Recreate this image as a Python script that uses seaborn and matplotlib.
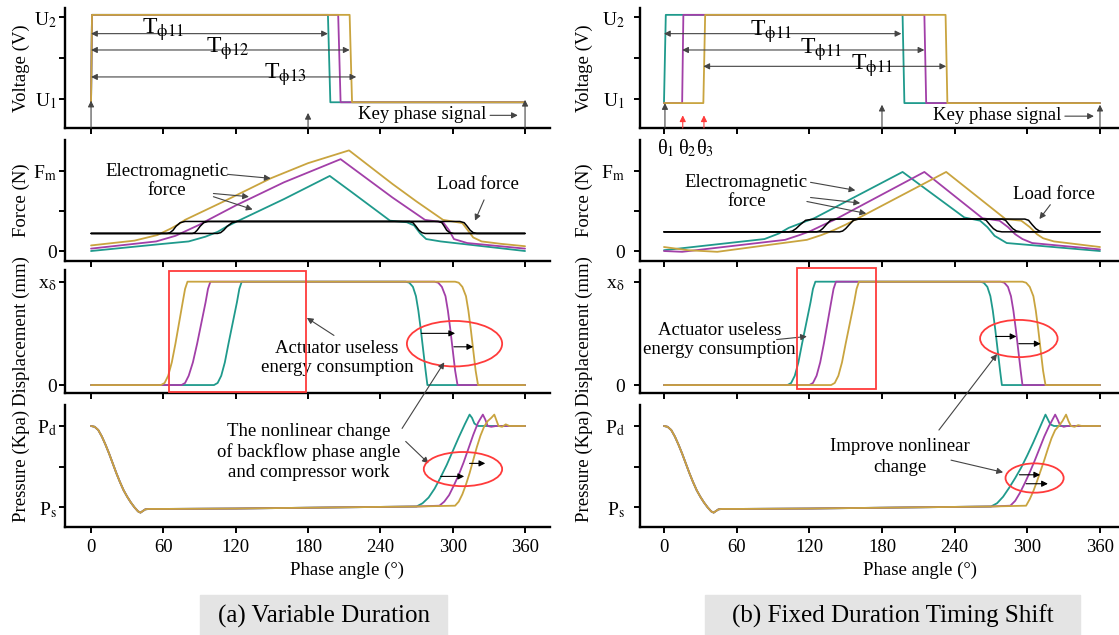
import matplotlib
matplotlib.use('Agg')
import matplotlib.pyplot as plt
import seaborn as sns
from matplotlib.patches import Rectangle, Ellipse, ConnectionPatch

# ---------------- data ----------------
ANGLE_TICKS = [0, 60, 120, 180, 240, 300, 360]
ANGLE_LABELS = ['0', '60', '120', '180', '240', '300', '360']

# Voltage (U1 = 0, U2 = 1)
a_volt_y = [-0.04, 1.03, 1.03, -0.04, -0.04]
a_volt_teal_x = [0, 0.8, 196.5, 198.5, 360]
a_volt_purple_x = [0, 0.8, 205, 207, 360]
a_volt_gold_x = [0, 0.8, 214.5, 216.5, 360]
b_volt_teal_x = [0, 1.5, 197, 198.5, 360]
b_volt_teal_y = [-0.05, 1.03, 1.03, -0.05, -0.05]
b_volt_shift_y = [-0.05, -0.05, 1.03, 1.03, -0.05, -0.05]
b_volt_purple_x = [0, 15, 16, 215, 216.5, 360]
b_volt_gold_x = [0, 32.5, 34, 232.5, 234, 360]

# Electromagnetic force (0 = 0, Fm = 1)
a_force_teal_x = [0, 60, 81, 95, 105, 113, 121, 160, 198, 216, 248, 262, 268, 273, 278, 290, 360]
a_force_teal_y = [0.0, 0.09, 0.12, 0.18, 0.24, 0.31, 0.37, 0.65, 0.94, 0.74, 0.38, 0.36, 0.32, 0.22, 0.15, 0.12, 0.0]
a_force_purple_x = [0, 54, 70, 80, 90, 96, 120, 160, 207, 250, 277, 292, 297, 301, 312, 360]
a_force_purple_y = [0.03, 0.12, 0.19, 0.26, 0.33, 0.38, 0.57, 0.86, 1.15, 0.67, 0.39, 0.36, 0.26, 0.15, 0.10, 0.03]
a_force_gold_x = [0, 36, 55, 66, 72, 78, 110, 149, 180, 214, 250, 270, 292, 300, 308, 312, 317, 324, 340, 360]
a_force_gold_y = [0.07, 0.13, 0.2, 0.28, 0.33, 0.39, 0.62, 0.91, 1.1, 1.26, 0.84, 0.62, 0.39, 0.37, 0.35, 0.27, 0.17, 0.12, 0.09, 0.06]
b_force_teal_x = [0, 83, 95, 103, 115, 124, 197, 248, 261, 267, 273, 283, 360]
b_force_teal_y = [0.01, 0.15, 0.22, 0.29, 0.36, 0.41, 0.99, 0.42, 0.38, 0.3, 0.19, 0.1, 0.0]
b_force_purple_x = [0, 15, 100, 112, 121, 132, 142, 215, 263, 277, 284, 290, 296, 304, 360]
b_force_purple_y = [0.0, -0.01, 0.14, 0.2, 0.25, 0.33, 0.4, 0.99, 0.41, 0.38, 0.3, 0.21, 0.15, 0.1, 0.02]
b_force_gold_x = [0, 20, 44, 118, 130, 140, 150, 159, 233, 282, 295, 302, 308, 313, 322, 360]
b_force_gold_y = [0.05, 0.01, -0.01, 0.14, 0.2, 0.26, 0.33, 0.4, 0.99, 0.4, 0.38, 0.3, 0.21, 0.16, 0.12, 0.05]

# Load force
a_load_y = [0.22, 0.22, 0.23, 0.26, 0.31, 0.355, 0.37, 0.37, 0.355, 0.31, 0.26, 0.23, 0.22, 0.22]
a_load_gold_x = [0, 63, 65.5, 68, 70.5, 74, 78, 306, 309.5, 312, 314.5, 317, 320, 360]
a_load_purple_x = [0, 84, 86, 88, 90.5, 93.5, 97, 288, 291, 293, 295, 297.5, 301, 360]
a_load_teal_x = [0, 105, 107.5, 110, 113, 117, 121, 264, 267, 269.5, 272, 274.5, 277, 360]
b_load_y = [0.24, 0.24, 0.25, 0.28, 0.33, 0.385, 0.40, 0.40, 0.385, 0.33, 0.28, 0.25, 0.24, 0.24]
b_load_teal_x = [0, 103, 106, 109, 112.5, 117, 124, 263, 266, 269, 272, 275, 279, 360]
b_load_purple_x = [0, 126, 128.5, 131, 134, 137.5, 142, 279, 282, 285, 288, 291, 295, 360]
b_load_gold_x = [0, 145, 147.5, 150, 153, 156.5, 161, 298, 301, 304, 307, 310, 314, 360]

# Displacement (0 = 0, x_delta = 1)
disp_y = [0, 0, 0.02, 0.09, 0.22, 0.4, 0.6, 0.8, 0.93, 1.0, 1.0, 0.99, 0.95, 0.86, 0.72, 0.54, 0.34, 0.14, 0.0, 0.0]
a_disp_gold_x = [0, 58, 61, 64, 67, 70, 73, 76, 78, 80, 302, 305, 308, 311, 313, 315, 317, 319, 321, 360]
a_disp_purple_x = [0, 75, 78, 81, 84.5, 88, 91.5, 95, 97, 99, 285, 288, 291, 294, 296, 298, 300, 302, 304, 360]
a_disp_teal_x = [0, 102, 105, 108, 111, 114, 117.5, 121, 123, 125, 261, 264, 267, 269.5, 271.5, 273.5, 275.5, 277.5, 279, 360]
b_disp_teal_x = [0, 102, 105, 108, 111, 114, 117.5, 121, 123, 125, 261, 264, 267, 269.5, 271.5, 273.5, 275.5, 277.5, 279, 360]
b_disp_purple_x = [0, 120, 123, 126, 129, 132, 135, 138, 140, 142, 278, 281, 284, 286.5, 288.5, 290.5, 292.5, 294.5, 296, 360]
b_disp_gold_x = [0, 138, 141, 144, 147, 150, 153.5, 157, 159, 161, 296, 299, 302, 305, 307, 309, 311, 313, 315, 360]

# Pressure (Ps = 0, Pd = 1)
pres_common_x = [0, 3, 6, 9, 12, 15, 18, 21, 24, 27, 30, 33, 36, 39, 41, 43, 45, 48, 60, 120, 180, 240, 270]
pres_common_y = [1.0, 0.99, 0.95, 0.87, 0.77, 0.66, 0.54, 0.42, 0.31, 0.21, 0.13, 0.06, 0.0, -0.05, -0.065, -0.045, -0.025, -0.02, -0.02, -0.015, -0.005, 0.005, 0.01]
a_pres_teal_x = [275, 280, 285, 290, 295, 300, 305, 310, 314, 316, 318, 321, 360]
a_pres_teal_y = [0.05, 0.12, 0.23, 0.37, 0.52, 0.69, 0.86, 1.02, 1.14, 1.1, 1.03, 1.0, 1.0]
a_pres_purple_x = [289, 293, 297, 301, 305, 309, 313, 317, 321, 325, 327, 329, 332, 336, 360]
a_pres_purple_y = [0.02, 0.07, 0.15, 0.27, 0.4, 0.55, 0.72, 0.89, 1.04, 1.14, 1.08, 1.0, 0.99, 1.0, 1.0]
a_pres_gold_x = [302, 305, 308, 311, 314, 317, 320, 323, 326, 329, 332, 334.5, 336.5, 338, 341, 344, 347, 360]
a_pres_gold_y = [0.02, 0.07, 0.16, 0.28, 0.42, 0.58, 0.74, 0.88, 0.99, 1.06, 1.1, 1.14, 1.06, 1.0, 0.99, 1.02, 1.0, 1.0]
b_pres_teal_x = [275, 280, 285, 290, 295, 300, 305, 310, 315, 317, 319, 322, 360]
b_pres_teal_y = [0.05, 0.13, 0.24, 0.36, 0.49, 0.64, 0.8, 0.97, 1.14, 1.08, 1.02, 1.0, 1.0]
b_pres_purple_x = [286, 290, 294, 298, 302, 306, 310, 314, 318, 323, 325, 327, 330, 333, 360]
b_pres_purple_y = [0.02, 0.08, 0.18, 0.3, 0.43, 0.57, 0.72, 0.87, 1.0, 1.14, 1.08, 1.01, 0.99, 1.0, 1.0]
b_pres_gold_x = [299, 302, 305, 308, 311, 314, 317, 320, 323, 326, 329, 332, 334, 336, 339, 342, 345, 360]
b_pres_gold_y = [0.02, 0.1, 0.2, 0.32, 0.45, 0.58, 0.72, 0.85, 0.95, 1.0, 1.06, 1.14, 1.06, 1.0, 0.99, 1.01, 1.0, 1.0]

ROW_LABELS = ['Voltage (V)', 'Force (N)', 'Displacement (mm)', 'Pressure (Kpa)']
ROW_TICKS = [[0, 0.5, 1], [0, 0.5, 1], [0, 1], [0, 0.5, 1]]
ROW_TICKLABELS = [['U$_1$', '', 'U$_2$'], ['0', '', 'F$_\\mathrm{m}$'],
                  ['0', 'x$_\\mathrm{δ}$'], ['P$_\\mathrm{s}$', '', 'P$_\\mathrm{d}$']]
CAPTIONS = ['(a) Variable Duration', '(b) Fixed Duration Timing Shift']

# ---------------- style ----------------
sns.set_theme(style='white')
plt.rcParams['font.family'] = ['Liberation Serif', 'DejaVu Serif']
plt.rcParams['mathtext.fontset'] = 'stix'
for k in ['text.color', 'axes.labelcolor', 'xtick.color', 'ytick.color']:
    plt.rcParams[k] = 'black'

TEAL = '#1f9a8c'
PURPLE = '#a23fa8'
GOLD = '#c9a43f'
RED = '#ff3b3b'
ARW = '#444444'
LW = 1.3
FS = 13.5

W, H = 1119, 635
fig = plt.figure(figsize=(W / 100, H / 100), dpi=100)


def add_ax(x0, x1, y0, y1):
    return fig.add_axes([x0 / W, 1 - y1 / H, (x1 - x0) / W, (y1 - y0) / H])


COLS = [(65, 550, -21.6, 380.7, 2, -0.072), (640, 1119, -19.8, 375.7, 7, -0.098)]
ROWS = [(8, 128, (-0.355, 1.114)), (140, 261, (-0.125, 1.39)),
        (270, 393, (-0.077, 1.113)), (405, 527, (-0.242, 1.258))]

axes = []
for ci, (x0, x1, xl0, xl1, pad, ylx) in enumerate(COLS):
    col_axes = []
    for ri, (y0, y1, ylim) in enumerate(ROWS):
        ax = add_ax(x0, x1, y0, y1)
        ax.set_xlim(xl0, xl1)
        ax.set_ylim(*ylim)
        col_axes.append(ax)
    axes.append(col_axes)


def line(ax, xs, ys, color, lw=LW, z=2):
    sns.lineplot(x=xs, y=ys, ax=ax, color=color, lw=lw, sort=False,
                 estimator=None, zorder=z)


def arrow(ax, start, end, color=ARW, style='-|>', lw=0.8, ms=9):
    ax.annotate('', xy=end, xytext=start,
                arrowprops=dict(arrowstyle=style, color=color, lw=lw,
                                shrinkA=0, shrinkB=0, mutation_scale=ms),
                annotation_clip=False)


# ---------- column a ----------
A = axes[0]
line(A[0], a_volt_teal_x, a_volt_y, TEAL)
line(A[0], a_volt_purple_x, a_volt_y, PURPLE)
line(A[0], a_volt_gold_x, a_volt_y, GOLD)

line(A[1], a_load_gold_x, a_load_y, 'black', 1.1, 3)
line(A[1], a_load_purple_x, a_load_y, 'black', 1.1, 3)
line(A[1], a_load_teal_x, a_load_y, 'black', 1.1, 3)
line(A[1], a_force_teal_x, a_force_teal_y, TEAL)
line(A[1], a_force_purple_x, a_force_purple_y, PURPLE)
line(A[1], a_force_gold_x, a_force_gold_y, GOLD)

line(A[2], a_disp_teal_x, disp_y, TEAL)
line(A[2], a_disp_purple_x, disp_y, PURPLE)
line(A[2], a_disp_gold_x, disp_y, GOLD)

line(A[3], pres_common_x + a_pres_teal_x, pres_common_y + a_pres_teal_y, TEAL)
line(A[3], pres_common_x + a_pres_purple_x, pres_common_y + a_pres_purple_y, PURPLE)
line(A[3], pres_common_x + a_pres_gold_x, pres_common_y + a_pres_gold_y, GOLD)

# ---------- column b ----------
B = axes[1]
line(B[0], b_volt_teal_x, b_volt_teal_y, TEAL)
line(B[0], b_volt_purple_x, b_volt_shift_y, PURPLE)
line(B[0], b_volt_gold_x, b_volt_shift_y, GOLD)

line(B[1], b_load_gold_x, b_load_y, 'black', 1.1, 3)
line(B[1], b_load_purple_x, b_load_y, 'black', 1.1, 3)
line(B[1], b_load_teal_x, b_load_y, 'black', 1.1, 3)
line(B[1], b_force_teal_x, b_force_teal_y, TEAL)
line(B[1], b_force_purple_x, b_force_purple_y, PURPLE)
line(B[1], b_force_gold_x, b_force_gold_y, GOLD)

line(B[2], b_disp_teal_x, disp_y, TEAL)
line(B[2], b_disp_purple_x, disp_y, PURPLE)
line(B[2], b_disp_gold_x, disp_y, GOLD)

line(B[3], pres_common_x + b_pres_teal_x, pres_common_y + b_pres_teal_y, TEAL)
line(B[3], pres_common_x + b_pres_purple_x, pres_common_y + b_pres_purple_y, PURPLE)
line(B[3], pres_common_x + b_pres_gold_x, pres_common_y + b_pres_gold_y, GOLD)

# ---------- axes styling ----------
for ci, (x0, x1, xl0, xl1, pad, ylx) in enumerate(COLS):
    for ri in range(4):
        ax = axes[ci][ri]
        ax.set_facecolor('none')
        for s in ['top', 'right']:
            ax.spines[s].set_visible(False)
        for s in ['left', 'bottom']:
            ax.spines[s].set_color('black')
            ax.spines[s].set_linewidth(1.7)
        ax.set_xticks(ANGLE_TICKS)
        ax.set_xticklabels(ANGLE_LABELS)
        ax.set_yticks(ROW_TICKS[ri])
        ax.set_yticklabels(ROW_TICKLABELS[ri])
        ax.tick_params(axis='both', direction='out', length=4, width=1.4,
                       bottom=True, left=True, labelsize=FS)
        ax.tick_params(axis='y', pad=pad, labelsize=14)
        ax.tick_params(axis='x', pad=5, labelbottom=(ri == 3))
        ax.set_xlabel('')
        ax.set_ylabel(ROW_LABELS[ri], fontsize=FS)
        ax.yaxis.set_label_coords(ylx, 0.5)
        ax.grid(False)

# ---------- voltage annotations ----------
ax = A[0]
ylo = ROWS[0][2][0]
arrow(ax, (0, 0.80), (196.5, 0.80), style='<|-|>')
arrow(ax, (0, 0.60), (214.5, 0.60), style='<|-|>')
arrow(ax, (0, 0.27), (220, 0.27), style='<|-|>')
ax.text(60, 0.85, r'T$_{\mathrm{ϕ11}}$', fontsize=17, ha='center', va='center')
ax.text(113, 0.62, r'T$_{\mathrm{ϕ12}}$', fontsize=17, ha='center', va='center')
ax.text(161, 0.30, r'T$_{\mathrm{ϕ13}}$', fontsize=17, ha='center', va='center')
arrow(ax, (0, ylo), (0, -0.02))
arrow(ax, (180, ylo), (180, -0.17))
arrow(ax, (360, ylo), (360, -0.01))
ax.text(275, -0.19, 'Key phase signal', fontsize=FS, ha='center', va='center')
arrow(ax, (331, -0.2), (354, -0.2))

ax = B[0]
arrow(ax, (0, 0.80), (196, 0.80), style='<|-|>')
arrow(ax, (15, 0.60), (215, 0.60), style='<|-|>')
arrow(ax, (32.5, 0.40), (233, 0.40), style='<|-|>')
ax.text(88, 0.83, r'T$_{\mathrm{ϕ11}}$', fontsize=17, ha='center', va='center')
ax.text(130, 0.61, r'T$_{\mathrm{ϕ11}}$', fontsize=17, ha='center', va='center')
ax.text(172, 0.41, r'T$_{\mathrm{ϕ11}}$', fontsize=17, ha='center', va='center')
arrow(ax, (0.8, ylo), (0.8, -0.05))
arrow(ax, (15.5, ylo), (15.5, -0.2), color=RED)
arrow(ax, (33, ylo), (33, -0.2), color=RED)
arrow(ax, (180, ylo), (180, -0.07))
arrow(ax, (360, ylo), (360, -0.07))
ax.text(275, -0.2, 'Key phase signal', fontsize=FS, ha='center', va='center')
arrow(ax, (331, -0.21), (355, -0.21))
for xv, lab in [(1.6, r'θ$_1$'), (19, r'θ$_2$'), (34, r'θ$_3$')]:
    ax.text(xv, -0.6, lab, fontsize=14.5, ha='center', va='center',
            clip_on=False, zorder=10)

# ---------- force annotations ----------
ax = A[1]
ax.text(63, 0.875, 'Electromagnetic\nforce', fontsize=FS, ha='center', va='center', linespacing=1.15)
arrow(ax, (113, 0.96), (149, 0.91))
arrow(ax, (101.5, 0.72), (131, 0.68))
arrow(ax, (101.5, 0.68), (134, 0.52))
ax.text(321, 0.83, 'Load force', fontsize=FS, ha='center', va='center')
arrow(ax, (326, 0.64), (318.5, 0.38))

ax = B[1]
ax.text(68, 0.735, 'Electromagnetic\nforce', fontsize=FS, ha='center', va='center', linespacing=1.15)
arrow(ax, (121, 0.86), (158, 0.76))
arrow(ax, (121, 0.67), (162, 0.60))
arrow(ax, (118, 0.62), (167, 0.47))
ax.text(322, 0.71, 'Load force', fontsize=FS, ha='center', va='center')
arrow(ax, (319, 0.58), (310, 0.40))

# ---------- displacement annotations ----------
ax = A[2]
ax.add_patch(Rectangle((65, -0.065), 113, 1.165, fill=False, ec=RED, lw=1.3,
                       zorder=4, clip_on=False))
ax.add_patch(Ellipse((301.5, 0.40), 79, 0.44, fill=False, ec=RED, lw=1.3, zorder=4))
arrow(ax, (274, 0.5), (302, 0.5), color='black')
arrow(ax, (301, 0.37), (317, 0.37), color='black')
ax.text(204, 0.26, 'Actuator useless\nenergy consumption', fontsize=FS, ha='center', va='center', linespacing=1.15)
arrow(ax, (201.5, 0.48), (179, 0.65))

ax = B[2]
ax.add_patch(Rectangle((110, -0.04), 65, 1.17, fill=False, ec=RED, lw=1.3,
                       zorder=4, clip_on=False))
ax.add_patch(Ellipse((293, 0.45), 64, 0.36, fill=False, ec=RED, lw=1.3, zorder=4))
arrow(ax, (274, 0.47), (291, 0.47), color='black')
arrow(ax, (293, 0.40), (311, 0.40), color='black')
ax.text(46, 0.435, 'Actuator useless\nenergy consumption', fontsize=FS, ha='center', va='center', linespacing=1.15)
arrow(ax, (93, 0.44), (118, 0.47))

# ---------- pressure annotations ----------
ax = A[3]
ax.add_patch(Ellipse((308.5, 0.47), 65, 0.42, fill=False, ec=RED, lw=1.3, zorder=4))
arrow(ax, (290, 0.38), (309.5, 0.38), color='black')
arrow(ax, (314, 0.54), (327, 0.54), color='black')
ax.text(180.5, 0.68, 'The nonlinear change\nof backflow phase angle\nand compressor work',
        fontsize=FS, ha='center', va='center', linespacing=1.25)
arrow(ax, (261, 0.81), (280, 0.54))
con = ConnectionPatch(xyA=(258, 0.97), coordsA=A[3].transData, xyB=(293, 0.22),
                      coordsB=A[2].transData, arrowstyle='-|>', color=ARW, lw=0.8,
                      mutation_scale=9, shrinkA=0, shrinkB=0)
fig.add_artist(con)

ax = B[3]
ax.add_patch(Ellipse((306, 0.36), 48, 0.36, fill=False, ec=RED, lw=1.3, zorder=4))
arrow(ax, (293.5, 0.40), (310.6, 0.40), color='black')
arrow(ax, (299, 0.29), (317, 0.29), color='black')
ax.text(195, 0.62, 'Improve nonlinear\nchange', fontsize=FS, ha='center', va='center', linespacing=1.25)
arrow(ax, (237, 0.58), (280, 0.43))
con = ConnectionPatch(xyA=(227, 0.95), coordsA=B[3].transData, xyB=(275, 0.3),
                      coordsB=B[2].transData, arrowstyle='-|>', color=ARW, lw=0.8,
                      mutation_scale=9, shrinkA=0, shrinkB=0)
fig.add_artist(con)

# ---------- x labels and captions ----------
fig.text(347 / W, 1 - 570 / H, 'Phase angle (°)', fontsize=FS, ha='center', va='center')
fig.text(920 / W, 1 - 570 / H, 'Phase angle (°)', fontsize=FS, ha='center', va='center')

for (bx0, bx1), cap in zip([(200, 447), (705, 1080)], CAPTIONS):
    fig.add_artist(Rectangle((bx0 / W, 0), (bx1 - bx0) / W, (635 - 595) / H,
                             transform=fig.transFigure, color='#e4e4e4', zorder=0))
    fig.text((bx0 + bx1) / 2 / W, 1 - 616 / H, cap, fontsize=18, ha='center', va='center')

fig.savefig('out.png', dpi=100, facecolor='white')
